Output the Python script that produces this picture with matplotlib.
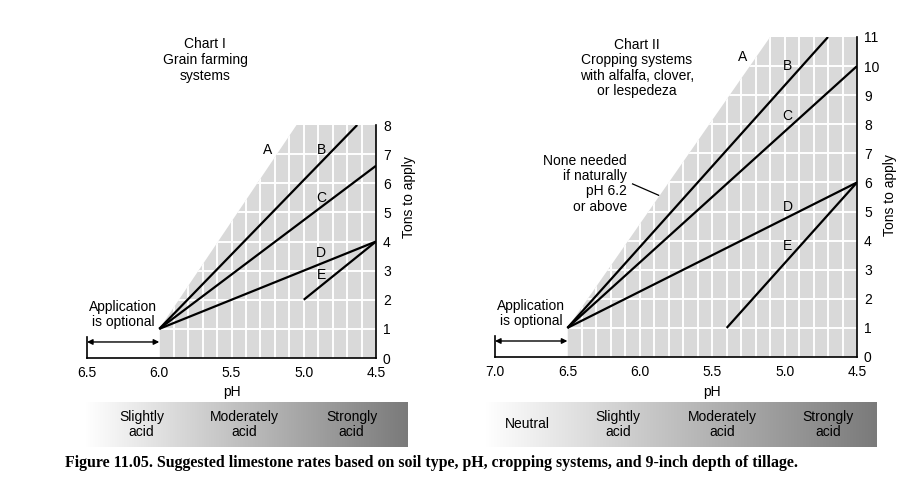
import matplotlib
matplotlib.use("Agg")
import matplotlib.pyplot as plt
import matplotlib.transforms as mtransforms
from matplotlib.patches import Polygon
from matplotlib.colors import LinearSegmentedColormap
import numpy as np

plt.rcParams['font.family'] = ['Liberation Sans', 'DejaVu Sans']

# ---- data ----
# Chart I: grain farming systems
c1_ph_ticks = [6.5, 6.0, 5.5, 5.0, 4.5]
c1_tons_ticks = list(range(0, 9))
c1_region_ph = [6.0, 6.0, 5.05, 4.5, 4.5]      # line A bounds the shaded area
c1_region_tons = [0, 1, 8, 8, 0]
c1_lines = {
    "B": ([6.0, 4.63], [1, 8]),
    "C": ([6.0, 4.5], [1, 6.6]),
    "D": ([6.0, 4.5], [1, 4]),
    "E": ([5.0, 4.5], [2, 4]),
}
c1_labels = {"A": (5.25, 7.15), "B": (4.88, 7.15), "C": (4.88, 5.5),
             "D": (4.88, 3.6), "E": (4.88, 2.85)}

# Chart II: cropping systems with legumes
c2_ph_ticks = [7.0, 6.5, 6.0, 5.5, 5.0, 4.5]
c2_tons_ticks = list(range(0, 12))
c2_region_ph = [6.5, 6.5, 5.1, 4.5, 4.5]
c2_region_tons = [0, 1, 11, 11, 0]
c2_lines = {
    "B": ([6.5, 4.70], [1, 11]),
    "C": ([6.5, 4.5], [1, 10]),
    "D": ([6.5, 4.5], [1, 6]),
    "E": ([5.4, 4.5], [1, 6]),
}
c2_labels = {"A": (5.29, 10.3), "B": (4.98, 10.0), "C": (4.98, 8.3),
             "D": (4.98, 5.15), "E": (4.98, 3.8)}

# soil reaction bands under each chart (name, pH at label centre)
c1_zones = ["Slightly\nacid", "Moderately\nacid", "Strongly\nacid"]
c1_zone_ph = [6.12, 5.41, 4.67]
c2_zones = ["Neutral", "Slightly\nacid", "Moderately\nacid", "Strongly\nacid"]
c2_zone_ph = [6.78, 6.15, 5.43, 4.70]

W, H = 920, 495
fig = plt.figure(figsize=(W / 100, H / 100), dpi=100)
fig.patch.set_facecolor("white")

GREY = "#d9d9d9"


def px_axes(x0, x1, y0, y1):
    # pixel box (top-left origin) -> figure axes
    return fig.add_axes([x0 / W, 1 - y1 / H, (x1 - x0) / W, (y1 - y0) / H])


def draw_chart(ax, ph_ticks, tons_ticks, reg_ph, reg_tons, lines, labels, opt_ph):
    xmax, xmin = ph_ticks[0], ph_ticks[-1]
    ax.set_xlim(xmax, xmin)
    ax.set_ylim(0, tons_ticks[-1])
    poly = Polygon(list(zip(reg_ph, reg_tons)), closed=True, facecolor=GREY,
                   edgecolor="none", zorder=0)
    ax.add_patch(poly)

    # white grid inside the shaded area only
    for x in np.arange(xmin + 0.1, xmax, 0.1):
        l, = ax.plot([x, x], [0, tons_ticks[-1]], color="white", lw=1.4, zorder=1)
        l.set_clip_path(poly)
    for y in tons_ticks[1:-1]:
        l, = ax.plot([xmin, xmax], [y, y], color="white", lw=1.4, zorder=1)
        l.set_clip_path(poly)

    for key, (xs, ys) in lines.items():
        ax.plot(xs, ys, color="black", lw=1.6, zorder=3, solid_capstyle="butt")
    for key, (x, y) in labels.items():
        ax.text(x, y, key, ha="center", va="center", fontsize=10, zorder=4)

    # application is optional marker
    ax.plot([xmax, xmax], [0, 0.72], color="black", lw=1.2, clip_on=False)
    ax.annotate("", xy=(opt_ph, 0.55), xytext=(xmax, 0.55),
                arrowprops=dict(arrowstyle="<|-|>", color="black", lw=1.0,
                                mutation_scale=8, shrinkA=0, shrinkB=0))
    ax.text((xmax + opt_ph) / 2, 1.5, "Application\nis optional", ha="center",
            va="center", fontsize=10, linespacing=1.1)

    for s in ["top", "left"]:
        ax.spines[s].set_visible(False)
    ax.spines["bottom"].set_linewidth(1.2)
    ax.spines["right"].set_linewidth(1.2)
    ax.set_xticks(ph_ticks)
    ax.set_xticklabels([f"{v:.1f}" for v in ph_ticks])
    ax.set_yticks(tons_ticks)
    ax.yaxis.tick_right()
    ax.tick_params(axis="both", length=0, labelsize=10)
    ax.tick_params(axis="x", pad=6)
    ax.tick_params(axis="y", pad=5)
    ax.set_facecolor("none")
    trans = mtransforms.blended_transform_factory(ax.transData, ax.transAxes)
    return trans


# Chart I
ax1 = px_axes(87, 376, 125, 358)
tr1 = draw_chart(ax1, c1_ph_ticks, c1_tons_ticks, c1_region_ph, c1_region_tons,
                 c1_lines, c1_labels, 6.0)
ax1.text(5.5, -0.145, "pH", transform=tr1, ha="center", va="center", fontsize=10)
ax1.text(1.115, 0.69, "Tons to apply", transform=ax1.transAxes, rotation=90,
         ha="center", va="center", fontsize=10)
fig.text(205 / W, 1 - 60 / H, "Chart I\nGrain farming\nsystems", ha="center",
         va="center", fontsize=10, linespacing=1.15)

# Chart II
ax2 = px_axes(495, 857, 37, 357)
tr2 = draw_chart(ax2, c2_ph_ticks, c2_tons_ticks, c2_region_ph, c2_region_tons,
                 c2_lines, c2_labels, 6.5)
ax2.text(5.5, -0.108, "pH", transform=tr2, ha="center", va="center", fontsize=10)
ax2.text(1.09, 0.506, "Tons to apply", transform=ax2.transAxes, rotation=90,
         ha="center", va="center", fontsize=10)
fig.text(637 / W, 1 - 68 / H, "Chart II\nCropping systems\nwith alfalfa, clover,\nor lespedeza",
         ha="center", va="center", fontsize=10, linespacing=1.15)
ax2.text(6.09, 5.95, "None needed\nif naturally\npH 6.2\nor above", ha="right",
         va="center", fontsize=10, linespacing=1.1, multialignment="right")
ax2.plot([6.05, 5.87], [5.95, 5.56], color="black", lw=0.9)

# gradient bands
cmap = LinearSegmentedColormap.from_list("band", ["#ffffff", "#7a7a7a"])
grad = np.linspace(0, 1, 256).reshape(1, -1)


def band(x0, x1, ph_left, ph_right, names, centers):
    bx = px_axes(x0, x1, 402, 447)
    bx.imshow(grad, aspect="auto", cmap=cmap, extent=[ph_left, ph_right, 0, 1])
    bx.set_xlim(ph_left, ph_right)
    bx.set_ylim(0, 1)
    for name, c in zip(names, centers):
        bx.text(c, 0.5, name, ha="center", va="center", fontsize=10,
                linespacing=1.05)
    bx.axis("off")


band(85, 408, 6.51, 4.28, c1_zones, c1_zone_ph)
band(485, 877, 7.07, 4.36, c2_zones, c2_zone_ph)

fig.text(65 / W, 1 - 463 / H,
         "Figure 11.05. Suggested limestone rates based on soil type, pH, cropping systems, and 9-inch depth of tillage.",
         ha="left", va="center", fontsize=11.4, fontweight="bold",
         family=["Liberation Serif", "DejaVu Serif"])

fig.savefig("out.png", dpi=100, facecolor="white")
